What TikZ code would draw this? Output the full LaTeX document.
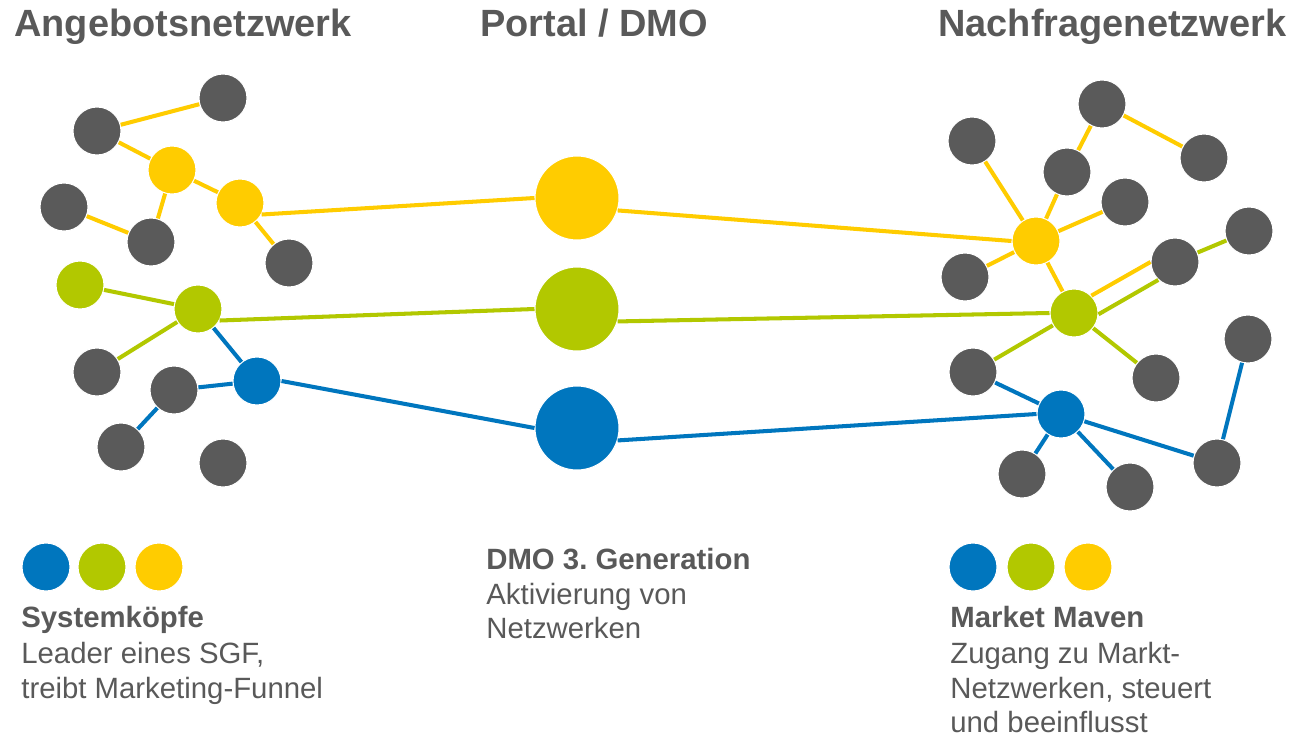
\documentclass[tikz,border=0pt]{standalone}
\usepackage{fontspec}
\setmainfont{Liberation Sans}
\usetikzlibrary{positioning}
\frenchspacing

\definecolor{txtgrey}{RGB}{89,89,89}
\definecolor{dotgrey}{RGB}{90,90,90}
\definecolor{dmoyellow}{RGB}{255,204,0}
\definecolor{dmogreen}{RGB}{178,200,0}
\definecolor{dmoblue}{RGB}{0,118,190}

\begin{document}
\begin{tikzpicture}[%
	x=0.02cm,y=-0.02cm,
	dot/.style={circle,inner sep=0pt,minimum size=0.96cm,draw=white,line width=0.6pt,fill=dotgrey},
	hub/.style={minimum size=1.68cm},
	ydot/.style={dot,fill=dmoyellow},
	gdot/.style={dot,fill=dmogreen},
	bdot/.style={dot,fill=dmoblue},
	yline/.style={draw=dmoyellow,line width=2.3pt},
	gline/.style={draw=dmogreen,line width=2.3pt},
	bline/.style={draw=dmoblue,line width=2.3pt},
	title/.style={anchor=base west,inner sep=0pt,text=txtgrey,font=\fontsize{21.6pt}{26pt}\selectfont\bfseries},
	txt/.style={anchor=base west,inner sep=0pt,text=txtgrey,font=\fontsize{16.7pt}{20pt}\selectfont},
	txtb/.style={txt,font=\fontsize{16.7pt}{20pt}\selectfont\bfseries}]

	\useasboundingbox (0,0) rectangle (1293,740);

	% headings
	\node (HA) [title] at (14,37)  {Angebotsnetzwerk};
	\node (HP) [title] at (480,37) {Portal / DMO};
	\node (HN) [title] at (938,37) {Nachfragenetzwerk};

	% Angebotsnetzwerk
	\node[dot]	(a1)	at (223,98)	{};
	\node[dot]	(a2)	at (97,131)	{};
	\node[ydot]	(ay1)	at (172,170)	{};
	\node[ydot]	(ay2)	at (240,203)	{};
	\node[dot]	(a3)	at (64,207)	{};
	\node[dot]	(a4)	at (151,242)	{};
	\node[dot]	(a5)	at (289,263)	{};
	\node[gdot]	(ag1)	at (80,285)	{};
	\node[gdot]	(ag2)	at (198,309)	{};
	\node[dot]	(a6)	at (97,372)	{};
	\node[dot]	(a7)	at (174,390)	{};
	\node[bdot]	(ab1)	at (257,381)	{};
	\node[dot]	(a8)	at (121,447)	{};
	\node[dot]	(a9)	at (223,463)	{};

	% Portal / DMO
	\node[ydot,hub]	(py)	at (577,198)	{};
	\node[gdot,hub]	(pg)	at (577,309)	{};
	\node[bdot,hub]	(pb)	at (577,428)	{};

	% Nachfragenetzwerk
	\node[dot]	(n1)	at (972,141)	{};
	\node[dot]	(n2)	at (1102,104)	{};
	\node[dot]	(n3)	at (1204,158)	{};
	\node[dot]	(n4)	at (1067,172)	{};
	\node[dot]	(n5)	at (1125,202)	{};
	\node[ydot]	(ny)	at (1036,241)	{};
	\node[dot]	(n6)	at (965,277)	{};
	\node[dot]	(n7)	at (1175,262)	{};
	\node[dot]	(n8)	at (1249,231)	{};
	\node[gdot]	(ng)	at (1074,313)	{};
	\node[dot]	(n9)	at (973,372)	{};
	\node[dot]	(n10)	at (1156,378)	{};
	\node[dot]	(n11)	at (1248,339)	{};
	\node[bdot]	(nb)	at (1061,414)	{};
	\node[dot]	(n12)	at (1022,474)	{};
	\node[dot]	(n13)	at (1130,487)	{};
	\node[dot]	(n14)	at (1217,463)	{};

	% yellow links
	\path (a1) edge[yline] (a2);
	\path (a2) edge[yline] (ay1);
	\path (ay1) edge[yline] (ay2);
	\path (ay1) edge[yline] (a4);
	\path (a3) edge[yline] (a4);
	\path (ay2) edge[yline] (a5);
	\path (ay2.-28) edge[yline] (py.180);
	\path (py.-17) edge[yline] (ny.180);
	\path (n1) edge[yline] (ny);
	\path (n4) edge[yline] (ny);
	\path (n2) edge[yline] (n4);
	\path (n2) edge[yline] (n3);
	\path (n5) edge[yline] (ny);
	\path (n6) edge[yline] (ny);
	\path (ny) edge[yline] (ng);
	\path (ng.45) edge[yline] (n7.180);

	% green links
	\path (ag1) edge[gline] (ag2);
	\path (ag2) edge[gline] (a6);
	\path (ag2.-28) edge[gline] (pg.180);
	\path (pg.-17) edge[gline] (ng.180);
	\path (ng.-3) edge[gline] (n7.227);
	\path (n7) edge[gline] (n8);
	\path (ng) edge[gline] (n9);
	\path (ng) edge[gline] (n10);

	% blue links
	\path (ag2) edge[bline] (ab1);
	\path (ab1) edge[bline] (a7);
	\path (a7) edge[bline] (a8);
	\path (ab1.0) edge[bline] (pb.180);
	\path (pb.-17) edge[bline] (nb.180);
	\path (n9) edge[bline] (nb);
	\path (nb) edge[bline] (n12);
	\path (nb) edge[bline] (n13);
	\path (nb) edge[bline] (n14);
	\path (n14) edge[bline] (n11);

	% legends
	\node[bdot]	(lb)	at (46,567)	{};
	\node[gdot]	(lg)	at (102,567)	{};
	\node[ydot]	(ly)	at (159,567)	{};
	\node[bdot]	(rb)	at (973,567)	{};
	\node[gdot]	(rg)	at (1031,567)	{};
	\node[ydot]	(ry)	at (1088,567)	{};

	\node (SK1) [txtb] at (21,627) {Systemköpfe};
	\node (SK2) [txt]  at (21,663) {Leader eines SGF,};
	\node (SK3) [txt]  at (21,698) {treibt Marketing-Funnel};

	\node (DM1) [txtb] at (486,569) {DMO 3. Generation};
	\node (DM2) [txt]  at (486,604) {Aktivierung von};
	\node (DM3) [txt]  at (486,638) {Netzwerken};

	\node (MM1) [txtb] at (950,627) {Market Maven};
	\node (MM2) [txt]  at (950,663) {Zugang zu Markt-};
	\node (MM3) [txt]  at (950,698) {Netzwerken, steuert};
	\node (MM4) [txt]  at (950,732) {und beeinflusst};

\end{tikzpicture}
\end{document}
